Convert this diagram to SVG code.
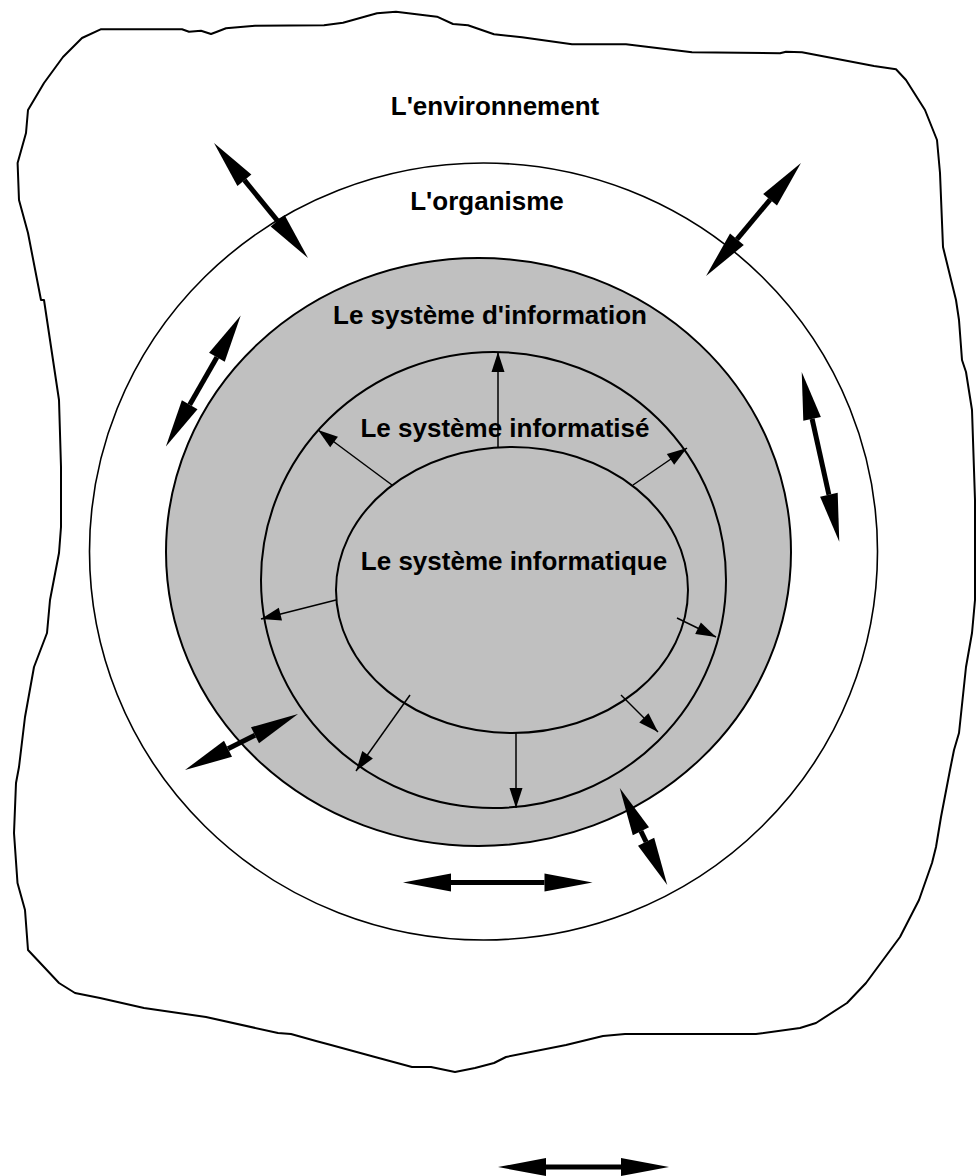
<svg xmlns="http://www.w3.org/2000/svg" width="980" height="1176" viewBox="0 0 980 1176">
  <style>
    .label { font-family: "Liberation Sans", Arial, sans-serif; font-weight: bold; font-size: 26px; fill: #000; text-anchor: middle; }
    .edge { fill: none; stroke: #000; }
    .thick { stroke-width: 5; marker-start: url(#headBig); marker-end: url(#headBig); }
    .thin { stroke-width: 1.5; marker-end: url(#headSmall); }
  </style>
  <defs>
    <!-- large head: base sits on the line end, point extends outward -->
    <marker id="headBig" markerUnits="userSpaceOnUse" viewBox="0 -10 49 20" refX="0" refY="0" markerWidth="49" markerHeight="20" orient="auto-start-reverse" overflow="visible">
      <path d="M0,-9 L48,0 L0,9 Z" fill="#000"/>
    </marker>
    <!-- small head: point sits on the line end -->
    <marker id="headSmall" markerUnits="userSpaceOnUse" viewBox="0 -7 21 14" refX="20" refY="0" markerWidth="21" markerHeight="14" orient="auto" overflow="visible">
      <path d="M0,-6.5 L20,0 L0,6.5 Z" fill="#000"/>
    </marker>
  </defs>

  <rect width="980" height="1176" fill="#fff"/>

  <g id="environnement">
    <path fill="#fff" stroke="#000" stroke-width="2" stroke-linejoin="round" d="M100.6,29.3 L182,29.3 L189,31.7 L201,30.7 L211,34 L217,31.7 L226,28.3 L255,25.7 L324,25.3 L343,22.7 L377,13.3 L396,11.7 L437,16.7 L453,24 L468,25.3 L494,34.3 L522,37.3 L572,44.3 L626,44.3 L692,52.3 L780,53.3 L786,51.7 L802,52.3 L874,66 L896,69.3 L906,80 L925,110 L937,140 L940,173 L943,247 L956,300 L959,320 L962,360 L966,372 L972,410 L975,500 L975,600 L972,633 L966,667 L959,733 L954,750 L950,770 L941,817 L936,847 L932,863 L919,900 L900,937 L866,983 L847,1003 L816,1023 L800,1028 L756,1034 L625,1034 L603,1036 L566,1045 L506,1057 L494,1063 L475,1068 L455,1072 L431,1067 L412,1067 L375,1057 L331,1045 L316,1041 L291,1034 L278,1033 L206,1017 L144,1008 L100,998 L75,993 L59,983 L44,967 L28,950 L25,910 L17.5,883 L14,833 L16,783 L19,767 L25,717 L34,667 L47,633 L50,600 L59,553 L61,527 L61,467 L59,400 L44,300 L41,300 L28,233 L19,200 L17.6,163 L26,133 L28,110 L44,83 L63,57 L82,38 Z"/>
    <text class="label" x="495" y="115">L'environnement</text>
  </g>

  <g id="organisme">
    <ellipse cx="483.5" cy="551.5" rx="394" ry="388.5" fill="#fff" stroke="#000" stroke-width="1.6"/>
    <text class="label" x="487" y="210">L'organisme</text>
  </g>

  <g id="systeme-information">
    <ellipse cx="478.5" cy="552" rx="312.5" ry="294" fill="#c0c0c0" stroke="#000" stroke-width="2"/>
    <text class="label" x="490" y="324">Le système d'information</text>
  </g>

  <g id="systeme-informatise">
    <ellipse cx="493.5" cy="580" rx="232.5" ry="228" fill="none" stroke="#000" stroke-width="2"/>
    <text class="label" x="505" y="437">Le système informatisé</text>
  </g>

  <g id="systeme-informatique">
    <ellipse cx="512" cy="590" rx="176" ry="143" fill="none" stroke="#000" stroke-width="2"/>
    <text class="label" x="514" y="570">Le système informatique</text>
  </g>

  <g id="connecteurs">
    <!-- exchanges between the layers (double heads) -->
    <line class="edge thick" x1="244.4" y1="180.2" x2="277.6" y2="220.8"/>
    <line class="edge thick" x1="770.1" y1="199.7" x2="736.9" y2="239.3"/>
    <line class="edge thick" x1="216.9" y1="357.2" x2="189.7" y2="404.8"/>
    <line class="edge thick" x1="812.1" y1="418.9" x2="828.9" y2="494.8"/>
    <line class="edge thick" x1="228" y1="748.7" x2="255" y2="735.3"/>
    <line class="edge thick" x1="640.9" y1="831.2" x2="646.1" y2="841.8"/>
    <line class="edge thick" x1="451" y1="882.5" x2="544.5" y2="882.5"/>
    <line class="edge thick" x1="546" y1="1167" x2="621" y2="1167"/>

    <!-- outputs of the computing core -->
    <line class="edge thin" x1="498" y1="447" x2="498" y2="352"/>
    <line class="edge thin" x1="392" y1="485" x2="318" y2="430"/>
    <line class="edge thin" x1="633" y1="485" x2="687" y2="448"/>
    <line class="edge thin" x1="336" y1="600" x2="261" y2="619"/>
    <line class="edge thin" x1="677" y1="618" x2="716" y2="637"/>
    <line class="edge thin" x1="410" y1="695" x2="356" y2="771"/>
    <line class="edge thin" x1="621" y1="695" x2="658" y2="732"/>
    <line class="edge thin" x1="516" y1="733" x2="516" y2="808"/>
  </g>
</svg>
